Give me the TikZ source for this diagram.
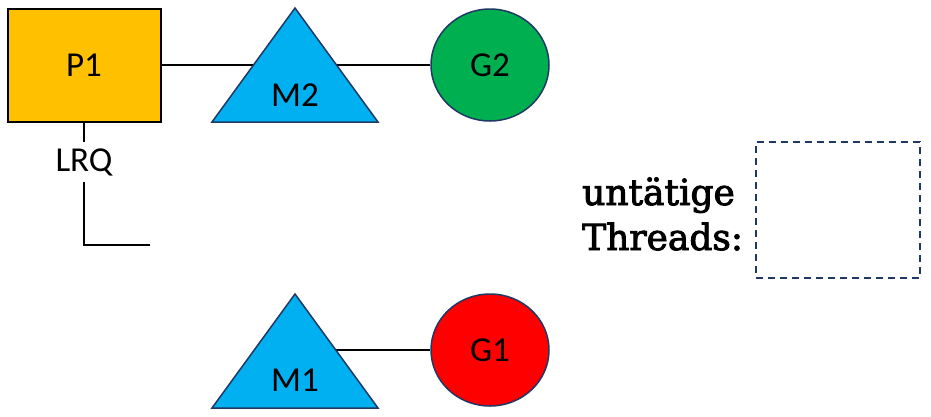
\documentclass[tikz,border=0pt]{standalone}
\usepackage{fontspec}
\setmainfont{Carlito}
\newfontfamily\slabfont[FakeBold=2.5]{DejaVu Serif}
\usetikzlibrary{shapes.geometric}
\definecolor{procorange}{HTML}{FFC000}
\definecolor{machblue}{HTML}{00B0F0}
\definecolor{gorgreen}{HTML}{00B050}
\definecolor{gorred}{HTML}{FF0000}
\definecolor{edgenavy}{HTML}{1F3864}
\begin{document}
\begin{tikzpicture}[x=1pt, y=-1pt, font=\fontsize{35}{42}\selectfont,
    conn/.style={line width=2.4pt},
    procbox/.style={draw, line width=2pt, fill=procorange, minimum width=153pt, minimum height=113pt, inner sep=0pt},
    machtri/.style={isosceles triangle, isosceles triangle stretches, shape border rotate=90,
        minimum width=166pt, minimum height=114pt, inner sep=0pt, outer sep=0pt, draw=edgenavy, fill=machblue, line width=1.5pt},
    gorball/.style={ellipse, draw=edgenavy, line width=1.5pt, minimum width=118pt, minimum height=112pt, inner sep=0pt}]
    \useasboundingbox (0,0) rectangle (931,416);

    % P1 mit M2 und G2
    \node[procbox] (P1) at (84,65) {P1};
    \node[gorball, fill=gorgreen] (G2) at (490,65) {G2};
    \draw[conn] (P1.east) -- (G2.west);
    \node[machtri, anchor=apex] (M2) at (295,8) {};
    \node (M2text) at (295,95) {M2};

    % LRQ
    \node[minimum height=40pt, inner sep=0pt] (LRQ) at (84,162) {LRQ};
    \coordinate (LRQend) at (150,245);
    \draw[conn] (P1.south) -- (LRQ.north);
    \draw[conn] (LRQ.south) |- (LRQend);

    % M1 mit G1
    \node[gorball, fill=gorred] (G1) at (490,350) {G1};
    \coordinate (M1top) at (295,294);
    \draw[conn] (M1top |- G1.west) -- (G1.west);
    \node[machtri, anchor=apex] (M1) at (M1top) {};
    \node (M1text) at (295,380) {M1};

    % untaetige Threads
    \node[draw=edgenavy, line width=1.5pt, dash pattern=on 7pt off 5pt, minimum width=164pt, minimum height=136pt] (idle) at (838,210) {};
    \node[font=\slabfont\fontsize{36}{45}\selectfont, align=left, anchor=base west, inner sep=0pt] (idletext) at (582,250) {untätige\\Threads:};
\end{tikzpicture}
\end{document}
